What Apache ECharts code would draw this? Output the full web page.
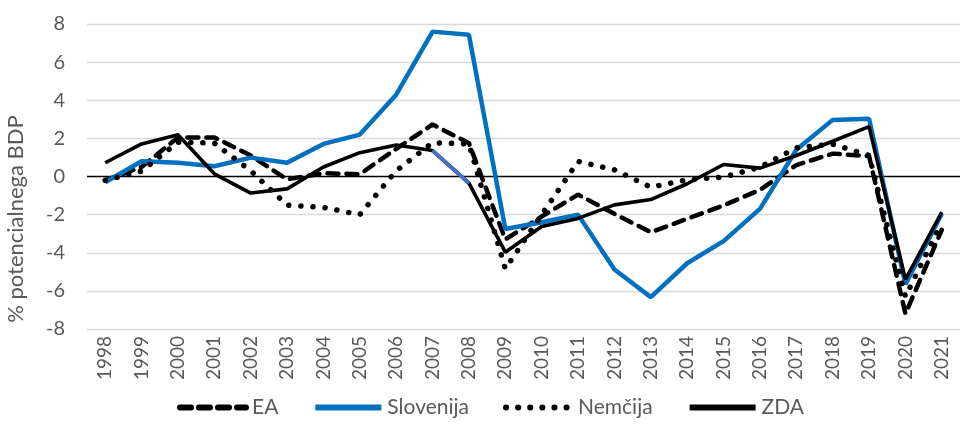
<!DOCTYPE html>
<html>
<head>
<meta charset="utf-8">
<script src="https://cdn.jsdelivr.net/npm/echarts@6/dist/echarts.min.js"></script>
<style>html,body{margin:0;padding:0;background:#fff}#c{width:960px;height:425px}</style>
</head>
<body>
<div id="c"></div>
<script>
var years = ['1998','1999','2000','2001','2002','2003','2004','2005','2006','2007','2008','2009','2010','2011','2012','2013','2014','2015','2016','2017','2018','2019','2020','2021'];
var ea        = [-0.2, 0.5, 2.05, 2.05, 1.1, -0.15, 0.17, 0.12, 1.45, 2.73, 1.75, -3.3, -2.1, -0.95, -1.96, -2.92, -2.22, -1.52, -0.7, 0.6, 1.2, 1.07, -7.2, -2.8];
var slovenija = [-0.3, 0.8, 0.72, 0.54, 0.99, 0.72, 1.71, 2.2, 4.29, 7.6, 7.43, -2.75, -2.4, -2.0, -4.88, -6.33, -4.55, -3.39, -1.7, 1.4, 2.97, 3.03, -5.65, -1.95];
var nemcija   = [-0.2, 0.28, 1.8, 1.75, 0.3, -1.5, -1.62, -2.0, 0.3, 1.77, 1.71, -4.84, -2.0, 0.79, 0.35, -0.56, -0.17, -0.03, 0.49, 1.5, 1.7, 1.1, -6.3, -2.4];
var zda       = [0.72, 1.71, 2.19, 0.14, -0.87, -0.65, 0.5, 1.25, 1.65, 1.36, -0.35, -3.97, -2.62, -2.2, -1.49, -1.21, -0.38, 0.63, 0.44, 1.1, 1.85, 2.62, -5.4, -1.87];
var yTicks = [-8, -6, -4, -2, 0, 2, 4, 6, 8];

var FONT = 'Lato';
var zdaSegment = zda.map(function (v, i) { return (i === 9 || i === 10) ? v : null; });
var splitColors = yTicks.map(function (t) { return t === 0 ? '#000000' : '#d9d9d9'; });

var chart = echarts.init(document.getElementById('c'));
chart.setOption({
  animation: false,
  backgroundColor: '#ffffff',
  grid: { left: 87, right: -10, top: 24, bottom: 96 },
  xAxis: {
    type: 'category',
    data: years,
    boundaryGap: true,
    axisLine: { show: false },
    axisTick: { show: false },
    axisLabel: { rotate: 90, margin: 7, fontSize: 19, color: '#595959', fontFamily: FONT }
  },
  yAxis: {
    type: 'value',
    min: -8, max: 8, interval: 2,
    axisLine: { show: false },
    axisTick: { show: false },
    axisLabel: { margin: 22, fontSize: 20, color: '#595959', fontFamily: FONT },
    splitLine: { lineStyle: { color: splitColors, width: 1.3 } }
  },
  legend: {
    data: ['EA', 'Slovenija', 'Nemčija', 'ZDA'],
    left: 172, bottom: 2,
    itemWidth: 66, itemHeight: 12, itemGap: 34,
    itemStyle: { opacity: 0 },
    lineStyle: { width: 6 },
    textStyle: { fontSize: 21, color: '#595959', fontFamily: FONT, padding: [0, 0, 0, 1] }
  },
  graphic: [{
    type: 'text',
    x: 16, y: 219,
    rotation: Math.PI / 2,
    style: {
      text: '% potencialnega BDP',
      fontSize: 22, fill: '#595959', fontFamily: FONT,
      align: 'center', verticalAlign: 'middle'
    }
  }],
  series: [
    {
      name: 'EA', type: 'line', data: ea, symbol: 'none',
      lineStyle: { color: '#000000', width: 4.5, type: [11, 8], cap: 'round' },
      itemStyle: { color: '#000000' }
    },
    {
      name: 'Slovenija', type: 'line', data: slovenija, symbol: 'none',
      lineStyle: { color: '#0070C0', width: 4.5 },
      itemStyle: { color: '#0070C0' }
    },
    {
      name: 'Nemčija', type: 'line', data: nemcija, symbol: 'none',
      lineStyle: { color: '#000000', width: 5.5, type: [0.1, 12], cap: 'round' },
      itemStyle: { color: '#000000' }
    },
    {
      name: 'ZDA', type: 'line', data: zda, symbol: 'none',
      lineStyle: { color: '#000000', width: 3.6 },
      itemStyle: { color: '#000000' }
    },
    {
      type: 'line', data: zdaSegment, symbol: 'none', connectNulls: false,
      lineStyle: { color: '#4472C4', width: 3.6 },
      itemStyle: { color: '#4472C4' }, silent: true
    }
  ]
});
</script>
</body>
</html>
